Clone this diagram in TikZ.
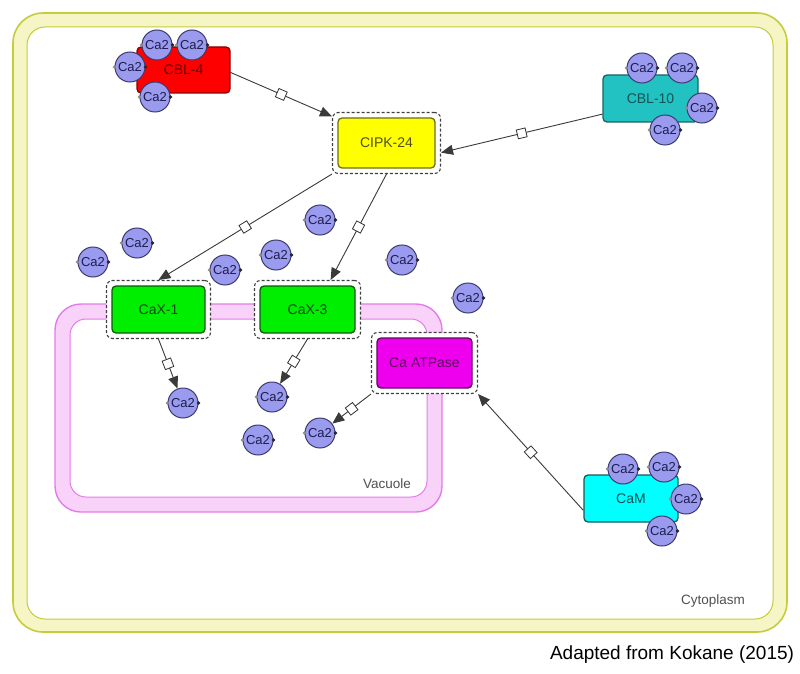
\documentclass[tikz,border=0pt]{standalone}
\usepackage{fontspec}
\setmainfont{Liberation Sans}
\usetikzlibrary{arrows.meta}
\definecolor{cytofill}{HTML}{F5F5C6}
\definecolor{cytoline}{HTML}{C6CC3A}
\definecolor{vacfill}{HTML}{F9D2F9}
\definecolor{vacline}{HTML}{E27DE8}
\definecolor{cafill}{HTML}{9A9AEE}
\definecolor{caline}{HTML}{3C3C6E}
\definecolor{catext}{HTML}{1E1E50}
\definecolor{edgecol}{HTML}{3A3A3A}
\definecolor{labgray}{HTML}{505050}
\definecolor{redfill}{HTML}{FF0000}
\definecolor{redline}{HTML}{8A0000}
\definecolor{redtext}{HTML}{6A0000}
\definecolor{tealfill}{HTML}{22C2C2}
\definecolor{tealline}{HTML}{1C6262}
\definecolor{tealtext}{HTML}{145454}
\definecolor{yelfill}{HTML}{FFFF00}
\definecolor{yelline}{HTML}{6E6E10}
\definecolor{yeltext}{HTML}{50500A}
\definecolor{grnfill}{HTML}{00EE00}
\definecolor{grnline}{HTML}{0A5A0A}
\definecolor{grntext}{HTML}{0A4A0A}
\definecolor{magfill}{HTML}{EE00EE}
\definecolor{magline}{HTML}{5A0A5A}
\definecolor{magtext}{HTML}{5A0A5A}
\definecolor{cyanfill}{HTML}{00FFFF}
\definecolor{cyanline}{HTML}{145A5A}
\definecolor{cyantext}{HTML}{0E5050}
\tikzset{
  x=1pt, y=-1pt,
  ca/.style={circle, draw=caline, fill=cafill, line width=1pt, minimum size=30pt, inner sep=0pt,
    font=\fontsize{13}{13}\selectfont, text=catext},
  protein/.style={rectangle, rounded corners=4pt, line width=1.3pt, inner sep=0pt,
    font=\fontsize{14}{16}\selectfont},
  dashbox/.style={rectangle, rounded corners=6pt, draw=black!75, dash pattern=on 3pt off 2pt,
    fill=white, line width=1.1pt, inner sep=0pt},
  link/.style={draw=edgecol, line width=0.9pt, -{Triangle[length=12pt,width=10pt]}},
  sq/.style={sloped, draw=black!80, fill=white, minimum size=9pt, inner sep=0pt, line width=0.8pt, solid},
  lab/.style={text=labgray, font=\fontsize{13.5}{15}\selectfont}
}
\newcommand{\catwo}[2]{%
  \node[ca] (#1) at (#2) {Ca2};
  \fill[black!45] (#1.west) circle (1.8pt);
  \fill[black!85] (#1.east) circle (1.8pt);
}
\begin{document}
\begin{tikzpicture}
\useasboundingbox (0,0) rectangle (800,674);
\fill[white] (0,0) rectangle (800,674);
% cytoplasm
\draw[cytoline, fill=cytofill, line width=1.6pt, rounded corners=30pt] (13,13) rectangle (787,632);
\draw[cytoline, fill=white, line width=1pt, rounded corners=18pt] (27,27) rectangle (773,619);
\node[lab] (cyto) at (713,601) {Cytoplasm};
% vacuole
\draw[vacline, fill=vacfill, line width=1.4pt, rounded corners=26pt] (55,304) rectangle (442,512);
\draw[vacline, fill=white, line width=1pt, rounded corners=16pt] (70,319) rectangle (427,497);
\node[lab] (vac) at (387,484) {Vacuole};
% dashed outlines
\node[dashbox, minimum width=108pt, minimum height=61pt] (cipkd) at (386.5,143) {};
\node[dashbox, minimum width=104pt, minimum height=58pt] (cax1d) at (158.5,309.5) {};
\node[dashbox, minimum width=106pt, minimum height=58pt] (cax3d) at (307.5,309.5) {};
\node[dashbox, minimum width=106pt, minimum height=61pt] (catpd) at (424.5,363) {};
% proteins
\node[protein, draw=redline, fill=redfill, text=redtext, minimum width=93pt, minimum height=46pt] (cbl4) at (183.5,70) {CBL-4};
\node[protein, draw=tealline, fill=tealfill, text=tealtext, minimum width=95pt, minimum height=47pt] (cbl10) at (650.5,98.5) {CBL-10};
\node[protein, draw=yelline, fill=yelfill, text=yeltext, minimum width=97pt, minimum height=50pt] (cipk) at (386.5,143) {CIPK-24};
\node[protein, draw=grnline, fill=grnfill, text=grntext, minimum width=93pt, minimum height=47pt] (cax1) at (158.5,309.5) {CaX-1};
\node[protein, draw=grnline, fill=grnfill, text=grntext, minimum width=95pt, minimum height=47pt] (cax3) at (307.5,309.5) {CaX-3};
\node[protein, draw=magline, fill=magfill, text=magtext, minimum width=95pt, minimum height=50pt] (catp) at (424.5,363) {Ca ATPase};
\node[protein, draw=cyanline, fill=cyanfill, text=cyantext, minimum width=94pt, minimum height=47pt] (cam) at (631,498.5) {CaM};
% bound Ca2+
\catwo{b1}{157,45}
\catwo{b2}{192,45}
\catwo{b3}{130,67}
\catwo{b4}{155,97}
\catwo{c1}{642,68}
\catwo{c2}{682,68}
\catwo{c3}{702,108}
\catwo{c4}{665,130}
\catwo{m1}{623,469}
\catwo{m2}{664,467}
\catwo{m3}{686,499}
\catwo{m4}{662,531}
% free Ca2+
\catwo{f1}{93,262}
\catwo{f2}{137,243}
\catwo{f3}{225,270}
\catwo{f4}{276,255}
\catwo{f5}{320,220}
\catwo{f6}{402,260}
\catwo{f7}{468,298}
\catwo{f8}{183,403}
\catwo{f9}{272,397}
\catwo{f10}{258,440}
\catwo{f11}{320,433}
% links
\draw[link] (cbl4.-3) -- node[sq]{} (cipkd.154);
\draw[link] (cbl10.198) -- node[sq]{} (cipkd.-10);
\draw[link] (cipkd.south west) -- node[sq]{} (cax1d.north);
\draw[link] (cipkd.south) -- node[sq]{} (cax3d.52);
\draw[link] (cax1d.south) -- node[sq]{} (f8);
\draw[link] (cax3d.south) -- node[sq]{} (f9);
\draw[link] (catpd.south west) -- node[sq]{} (f11);
\draw[link] (cam.194) -- node[sq]{} (catpd.south east);
% caption
\node[font=\fontsize{19}{22}\selectfont] (cap) at (672,655) {Adapted from Kokane (2015)};
\end{tikzpicture}
\end{document}
